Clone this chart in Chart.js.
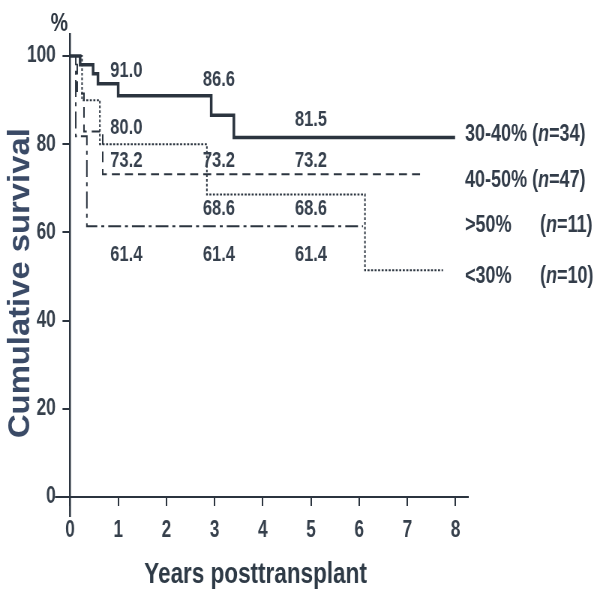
<!DOCTYPE html>
<html><head><meta charset="utf-8">
<script src="https://cdn.jsdelivr.net/npm/chart.js@4/dist/chart.umd.min.js"></script>
<style>
html,body{margin:0;padding:0;overflow:hidden;background:#fff;width:596px;height:592px;}
#wrap{width:795px;height:592px;transform:scaleX(0.75);transform-origin:0 0;}
</style></head><body>
<div id="wrap"><canvas id="c" width="795" height="592"></canvas></div>
<script>
// ---- data ----
const xTicks = [0,1,2,3,4,5,6,7,8];
const yTicks = [0,20,40,60,80,100];
const seriesNames = ['30-40%','40-50%','>50%','<30%'];
const seriesN = [34,47,11,10];
// Kaplan-Meier steps: time (years) and cumulative survival (%)
const t3040 = [0,0.21,0.48,0.58,1.0,2.93,3.40,7.99];
const s3040 = [100,98.0,96.0,93.7,91.0,86.6,81.5,81.5];
const t4050 = [0,0.15,0.29,0.68,7.30];
const s4050 = [100,91.5,82.9,73.2,73.2];
const tGt50 = [0,0.12,0.35,6.08];
const sGt50 = [100,81.8,61.4,61.4];
const tLt30 = [0,0.25,0.62,2.84,6.12,7.74];
const sLt30 = [100,90.0,80.0,68.6,51.4,51.4];
// annotated survival estimates at 1, 3, 5 years
const ann3040 = ['91.0','86.6','81.5'];
const annLt30 = ['80.0','68.6','68.6'];
const ann4050 = ['73.2','73.2','73.2'];
const annGt50 = ['61.4','61.4','61.4'];

// ---- layout / style (not data) ----
const INK = '#2b343f';
const FONT = "'Liberation Sans', Arial, Helvetica, sans-serif";
const annX = [1.17,3.09,5.0];
const annRows = [
  {txt: ann3040, y: [96.7,94.6,85.5]},
  {txt: annLt30, y: [83.8,65.4,65.4]},
  {txt: ann4050, y: [76.3,76.2,76.2]},
  {txt: annGt50, y: [55.0,54.9,54.9]}
];
const legendAt = [82.3,71.9,61.7,50.1];

const pts = (t,s) => t.map((v,i)=>({x:v,y:s[i]}));

const textPlugin = {
  id:'texts',
  afterDraw(chart){
    const ctx = chart.ctx, xs = chart.scales.x, ys = chart.scales.y;
    const x0 = xs.getPixelForValue(0), y0 = ys.getPixelForValue(0);
    ctx.save();
    // axis extensions past the origin
    ctx.strokeStyle = INK;
    ctx.lineWidth = 2.5;
    ctx.beginPath(); ctx.moveTo(x0, y0); ctx.lineTo(x0, y0+20); ctx.stroke();
    ctx.lineWidth = 2;
    ctx.beginPath(); ctx.moveTo(x0-20, y0); ctx.lineTo(x0, y0); ctx.stroke();

    // annotations
    ctx.fillStyle = '#36404d';
    ctx.font = 'bold 22px ' + FONT;
    ctx.textAlign = 'center'; ctx.textBaseline = 'middle';
    annRows.forEach(r => r.txt.forEach((s,i)=>{
      ctx.fillText(s, xs.getPixelForValue(annX[i]), ys.getPixelForValue(r.y[i]));
    }));

    // legend labels
    ctx.textAlign = 'left';
    ctx.fillStyle = '#323c49';
    seriesNames.forEach((nm,i)=>{
      const y = ys.getPixelForValue(legendAt[i]);
      let x = 620;
      ctx.font = 'bold 24px ' + FONT;
      ctx.fillText(nm, x, y);
      let px = i < 2 ? x + ctx.measureText(nm + ' ').width : 720;
      ctx.fillText('(', px, y); px += ctx.measureText('(').width;
      ctx.font = 'italic bold 24px ' + FONT;
      ctx.fillText('n', px, y); px += ctx.measureText('n').width;
      ctx.font = 'bold 24px ' + FONT;
      ctx.fillText('=' + seriesN[i] + ')', px, y);
    });

    // percent sign
    ctx.font = 'bold 26px ' + FONT;
    ctx.textAlign = 'center';
    ctx.fillStyle = INK;
    ctx.fillText('%', 79, 24);

    // x title
    ctx.font = 'bold 30px ' + FONT;
    ctx.fillStyle = '#2e3a46';
    ctx.textBaseline = 'alphabetic';
    ctx.fillText('Years posttransplant', xs.getPixelForValue(3.85), 583);

    // y title (rotated)
    ctx.save();
    ctx.translate(28, ys.getPixelForValue(48.5));
    ctx.rotate(-Math.PI/2);
    ctx.scale(0.82, 1.0);
    ctx.font = 'bold 40px ' + FONT;
    ctx.fillStyle = '#3a4a66';
    ctx.textAlign = 'center'; ctx.textBaseline = 'middle';
    ctx.fillText('Cumulative survival', 0, 0);
    ctx.restore();
    ctx.restore();
  }
};

const common = {fill:false, stepped:true, pointRadius:0, pointHoverRadius:0, tension:0, borderCapStyle:'butt', borderColor:INK};

new Chart(document.getElementById('c'), {
  type:'line',
  data:{
    datasets:[
      Object.assign({label:seriesNames[3], data:pts(tLt30,sLt30), borderWidth:2, borderDash:[2.7,2]}, common),
      Object.assign({label:seriesNames[2], data:pts(tGt50,sGt50), borderWidth:2, borderDash:[17,5.3,4,5.3]}, common),
      Object.assign({label:seriesNames[1], data:pts(t4050,s4050), borderWidth:2, borderDash:[10.7,6.7]}, common),
      Object.assign({label:seriesNames[0], data:pts(t3040,s3040), borderWidth:3.5}, common)
    ]
  },
  options:{
    responsive:false, devicePixelRatio:1, animation:false,
    layout:{padding:{left:23.33, right:171.5, top:34, bottom:0}},
    plugins:{legend:{display:false}, tooltip:{enabled:false}},
    scales:{
      x:{type:'linear', min:0, max:8.25,
        afterBuildTicks:s=>{s.ticks = xTicks.map(v=>({value:v}));},
        afterFit:s=>{s.height = 95;},
        ticks:{font:{family:FONT, size:23, weight:'bold'}, color:'#36404c', padding:11, autoSkip:false, maxRotation:0},
        grid:{display:true, drawOnChartArea:false, drawTicks:true, tickLength:9, color:INK, lineWidth:2},
        border:{display:true, color:INK, width:2}
      },
      y:{type:'linear', min:0, max:105,
        afterBuildTicks:s=>{s.ticks = yTicks.map(v=>({value:v}));},
        afterFit:s=>{s.width = 70;},
        ticks:{font:{family:FONT, size:23, weight:'bold'}, color:'#36404c', padding:9, autoSkip:false},
        grid:{display:true, drawOnChartArea:false, drawTicks:true, tickLength:10, color:INK, lineWidth:2},
        border:{display:true, color:INK, width:2.5}
      }
    }
  },
  plugins:[textPlugin]
});
</script>
</body></html>
